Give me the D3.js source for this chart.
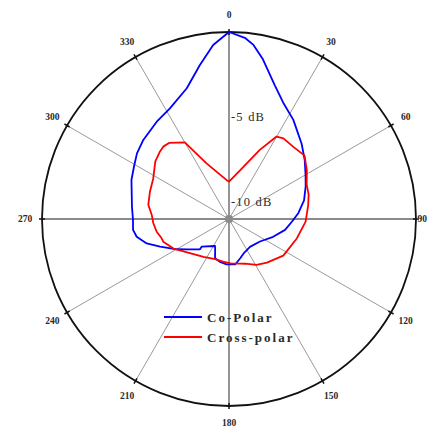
<!DOCTYPE html>
<html>
<head>
<meta charset="utf-8">
<script src="https://cdn.jsdelivr.net/npm/d3@7"></script>
<style>
  html, body { margin: 0; padding: 0; background: #fff; }
  svg { display: block; }
  text { font-family: "Liberation Serif", "Times New Roman", serif; fill: #2a2a2a; }
</style>
</head>
<body>
<svg id="chart" width="428" height="430"></svg>
<script>
// Co-polar pattern: azimuth (deg, clockwise from 0) and level (dB)
const coAngles = [0, 5, 8, 12, 19, 25, 33, 44, 52, 60, 67, 76, 85, 92.5, 101, 112, 126, 143, 157, 164, 172, 183, 192, 199.6, 204, 207.4, 224.6, 223.7, 233.4, 239.9, 248.1, 253.5, 259.1, 263.5, 270, 277, 291.8, 298.8, 305.5, 312.7, 323.4, 331.9, 342.1, 349.3, 354.8];
const coValues = [0, -0.3, -0.66, -1.4, -2.7, -3.45, -4.05, -4.85, -5.35, -5.8, -6.1, -6.45, -6.9, -7.3, -7.64, -8.2, -8.75, -8.95, -8.8, -8.6, -8.31, -8.33, -8.42, -8.55, -9.0, -9.21, -8.71, -8.53, -8.0, -7.45, -6.63, -5.95, -5.47, -5.32, -5.35, -5.25, -4.82, -4.62, -4.35, -4.14, -3.87, -3.62, -2.92, -1.78, -0.72];

// Cross-polar pattern
const xpAngles = [0, 13, 24, 30, 34, 42, 50, 58, 66, 73, 80, 92, 106, 124, 139, 149, 160, 166, 178, 188, 199, 214, 229, 242, 251, 254, 260, 267, 273, 280, 289, 298, 308, 314, 318, 322, 330, 338, 356.6];
const xpValues = [-8.8, -8.05, -6.55, -5.4, -5.28, -5.31, -5.2, -5.6, -6.0, -6.1, -6.27, -6.49, -6.85, -7.15, -7.6, -7.85, -8.2, -8.3, -8.39, -8.47, -8.5, -8.32, -7.95, -7.3, -6.91, -6.88, -6.68, -6.54, -6.45, -6.18, -6.08, -5.95, -5.5, -5.33, -5.25, -5.31, -5.8, -7.47, -8.71];

// Angular grid and ring labels
const angleTicks = [0, 30, 60, 90, 120, 150, 180, 210, 240, 270, 300, 330];
const ringTicks = [-5, -10];
const ringLabels = ["-5 dB", "-10 dB"];

const seriesNames = ["Co-Polar", "Cross-polar"];
const seriesColors = ["#0000ff", "#ff0000"];

const width = 428;
const svg = d3.select("#chart");
const cx = 229, cy = 219, R = 187, labelR = 204;

const r = d3.scaleLinear().domain([-11, 0]).range([0, R]);
const rad = d => d * Math.PI / 180;

const g = svg.append("g").attr("transform", `translate(${cx},${cy})`);

// spokes
g.selectAll("line.spoke")
  .data(angleTicks)
  .join("line")
  .attr("class", "spoke")
  .attr("x1", 0).attr("y1", 0)
  .attr("x2", d => R * Math.sin(rad(d)))
  .attr("y2", d => -R * Math.cos(rad(d)))
  .attr("stroke", d => d % 90 === 0 ? "#8a8a8a" : "#9a9a9a")
  .attr("stroke-width", d => d % 90 === 0 ? 1.8 : 1);

// outer ring
g.append("circle")
  .attr("r", R)
  .attr("fill", "none")
  .attr("stroke", "#111")
  .attr("stroke-width", 1.8);

// small ticks on the ring at each spoke
g.selectAll("line.tick")
  .data(angleTicks)
  .join("line")
  .attr("class", "tick")
  .attr("x1", d => (R - 3) * Math.sin(rad(d)))
  .attr("y1", d => -(R - 3) * Math.cos(rad(d)))
  .attr("x2", d => (R + 3) * Math.sin(rad(d)))
  .attr("y2", d => -(R + 3) * Math.cos(rad(d)))
  .attr("stroke", "#111")
  .attr("stroke-width", 1.5);

// angle labels (the right-hand one is kept inside the page edge)
g.selectAll("text.ang")
  .data(angleTicks)
  .join("text")
  .attr("class", "ang")
  .attr("x", d => {
    const x = labelR * Math.sin(rad(d));
    return d === 90 ? Math.min(x, width - cx - 1) : x;
  })
  .attr("y", d => -labelR * Math.cos(rad(d)))
  .attr("text-anchor", d => d === 90 ? "end" : "middle")
  .attr("dominant-baseline", "central")
  .attr("font-size", 9.5)
  .attr("font-weight", "bold")
  .text(d => d);

// pattern curves
const line = d3.lineRadial()
  .angle(d => rad(d[0]))
  .radius(d => r(d[1]))
  .curve(d3.curveLinearClosed);

const series = [
  d3.zip(coAngles, coValues),
  d3.zip(xpAngles, xpValues)
];

g.selectAll("path.pattern")
  .data(series)
  .join("path")
  .attr("class", "pattern")
  .attr("d", line)
  .attr("fill", "none")
  .attr("stroke", (d, i) => seriesColors[i])
  .attr("stroke-width", 1.8)
  .attr("stroke-linejoin", "round");

// ring labels
g.selectAll("text.ring")
  .data(ringTicks)
  .join("text")
  .attr("class", "ring")
  .attr("x", 2)
  .attr("y", d => -r(d))
  .attr("dominant-baseline", "central")
  .attr("font-size", 12.5)
  .attr("letter-spacing", 1.2)
  .text((d, i) => ringLabels[i]);

// centre hub
g.append("circle").attr("r", 4).attr("fill", "#8a8a8a");

// legend
const legend = svg.append("g").attr("transform", "translate(164,317)");
const items = legend.selectAll("g")
  .data(seriesNames)
  .join("g")
  .attr("transform", (d, i) => `translate(0,${i * 20})`);
items.append("line")
  .attr("x1", 0).attr("x2", 38)
  .attr("stroke", (d, i) => seriesColors[i])
  .attr("stroke-width", 2);
items.append("text")
  .attr("x", 43)
  .attr("dominant-baseline", "central")
  .attr("font-size", 13)
  .attr("font-weight", "bold")
  .attr("letter-spacing", 2)
  .text(d => d);
</script>
</body>
</html>
